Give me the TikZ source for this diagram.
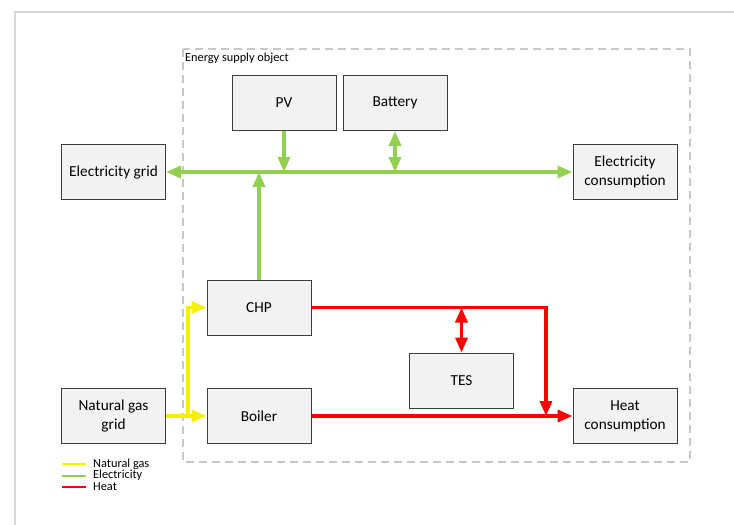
\documentclass[tikz,border=0pt]{standalone}
\usepackage{fontspec}
\setmainfont{Carlito}
\usepackage{tikz}
\usepackage{xcolor}
\usetikzlibrary{
  arrows.meta,
  positioning,
  calc,
}
\definecolor{elec}{RGB}{146,208,80}
\definecolor{gas}{RGB}{245,240,0}
\definecolor{heat}{RGB}{255,0,0}
\definecolor{boxfill}{RGB}{242,242,242}
\definecolor{boxline}{RGB}{60,60,60}
\definecolor{framecol}{RGB}{215,215,215}
\definecolor{dashcol}{RGB}{200,200,200}
\tikzset{
  unitbox/.style={
    rectangle, draw=boxline, fill=boxfill, line width=1pt,
    minimum width=104pt, minimum height=55pt, inner sep=2pt,
    align=center, font=\fontsize{15.3}{19}\selectfont
  },
  flowtip/.style={-{Triangle[length=15pt,width=12pt]}},
  elecflow/.style={line width=3.5pt, elec},
  gasflow/.style={line width=3.5pt, gas},
  heatflow/.style={line width=3.5pt, heat},
  legendline/.style={line width=2pt},
  legendtext/.style={anchor=west, font=\fontsize{12.3}{12}\selectfont, inner sep=0pt},
}

\begin{document}
\begin{tikzpicture}[x=1pt, y=-1pt]

  % ── Canvas ──
  \useasboundingbox[fill=white] (0,0) rectangle (734,525);
  \draw[framecol, line width=1.5pt] (15,525) -- (15,12) -- (734,12);

  % ── System boundary ──
  \draw[dashcol, line width=2pt, dash pattern=on 8pt off 5pt]
    (183,49) rectangle (690,462);
  \node[anchor=north west, inner sep=0pt, font=\fontsize{12.3}{12}\selectfont] (esolabel)
    at (185,53) {Energy supply object};

  % ── Units ──
  \node[unitbox] (PV)      at (284,103)   {PV};
  \node[unitbox] (Battery) at (395,103)   {Battery};
  \node[unitbox] (Grid)    at (113.5,172) {Electricity grid};
  \node[unitbox] (ElCons)  at (625,172)   {Electricity\\consumption};
  \node[unitbox] (CHP)     at (259,307.5) {CHP};
  \node[unitbox] (Boiler)  at (259,416)   {Boiler};
  \node[unitbox] (GasGrid) at (113.5,416) {Natural gas\\grid};
  \node[unitbox] (TES)     at (461.5,380.5) {TES};
  \node[unitbox] (HeatCons) at (625,416)  {Heat\\consumption};

  % ── Electricity bus ──
  \draw[elecflow, {Triangle[length=15pt,width=12pt]}-{Triangle[length=15pt,width=12pt]}]
    (Grid.east) -- (ElCons.west);
  \draw[elecflow, flowtip] (PV.south) -- (PV.south |- Grid.east);
  \draw[elecflow, {Triangle[length=15pt,width=12pt]}-{Triangle[length=15pt,width=12pt]}]
    (Battery.south) -- (Battery.south |- Grid.east);
  \draw[elecflow, flowtip] (CHP.north) -- (CHP.north |- Grid.east);

  % ── Natural gas supply ──
  \coordinate (gasjoin) at (188,416);
  \draw[gasflow, flowtip] (GasGrid.east) -- (Boiler.west);
  \draw[gasflow, flowtip] (gasjoin) |- (CHP.west);

  % ── Heat supply ──
  \coordinate (heatjoin) at (546,416);
  \draw[heatflow, flowtip] (Boiler.east) -- (HeatCons.west);
  \draw[heatflow, flowtip] (CHP.east) -| (heatjoin);
  \draw[heatflow, {Triangle[length=15pt,width=12pt]}-{Triangle[length=15pt,width=12pt]}]
    (TES.north) -- (TES.north |- CHP.east);

  % ── Legend ──
  \foreach \y/\c/\t [count=\i] in {464/gas/Natural gas, 475.5/elec/Electricity, 487/heat/Heat} {
    \draw[legendline, \c] (62,\y) -- (86,\y);
    \node[legendtext] (leg\i) at (93,\y) {\t};
  }

\end{tikzpicture}
\end{document}
